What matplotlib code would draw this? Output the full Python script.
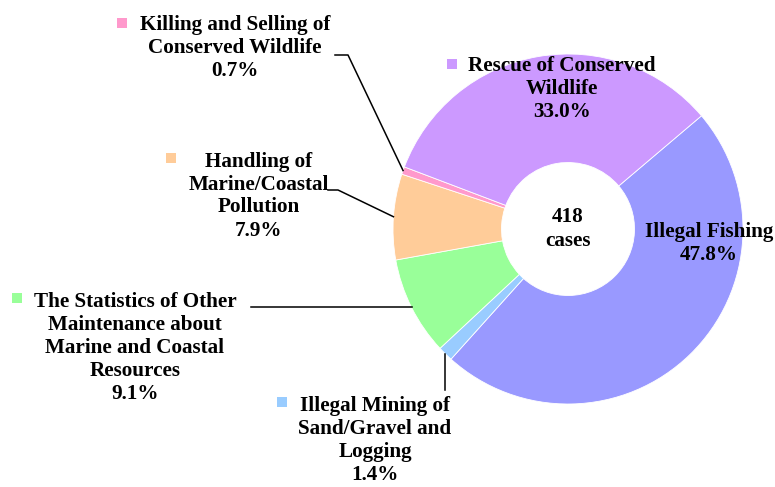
import numpy as np
import matplotlib
matplotlib.use("Agg")
import matplotlib.pyplot as plt

# data, clockwise from the upper right
names = ["Illegal Fishing",
         "Illegal Mining of\nSand/Gravel and\nLogging",
         "The Statistics of Other\nMaintenance about\nMarine and Coastal\nResources",
         "Handling of\nMarine/Coastal\nPollution",
         "Killing and Selling of\nConserved Wildlife",
         "Rescue of Conserved\nWildlife"]
shares = [47.8, 1.4, 9.1, 7.9, 0.7, 33.0]
colors = ["#9999ff", "#99ccff", "#99ff99", "#ffcc99", "#ff99cc", "#cc99ff"]
total_cases = 418

W, H = 775, 487
CX, CY, R = 568, 229, 175


def px(x, y):
    # pixel position -> data units (pie radius = 1)
    return (x - CX) / R, (CY - y) / R


fig = plt.figure(figsize=(W / 100, H / 100), dpi=100)
ax = fig.add_axes([0, 0, 1, 1])

wedges, _ = ax.pie(shares, colors=colors, startangle=40.3, counterclock=False,
                   radius=1, wedgeprops=dict(width=0.62, edgecolor="white", linewidth=0.6))

ax.set_xlim(-CX / R, (W - CX) / R)
ax.set_ylim(-(H - CY) / R, CY / R)
ax.set_aspect("equal")
ax.axis("off")

font = dict(family=["Liberation Serif", "DejaVu Serif"], weight="bold", fontsize=15.2)

# label text block centres and marker positions (pixels)
label_pos = [(709, 243), (375, 441), (135, 348), (259, 196), (235, 48), (562, 89)]
marker_pos = [None, (282, 402), (17, 298), (171.5, 157.5), (122.5, 22.5), (452.5, 63.5)]

for i, name in enumerate(names):
    lx, ly = px(*label_pos[i])
    ax.text(lx, ly, "%s\n%.1f%%" % (name, shares[i]), ha="center", va="center",
            linespacing=1.2, **font)
    if marker_pos[i] is not None:
        mx, my = px(*marker_pos[i])
        ax.plot(mx, my, "s", color=colors[i], markersize=7.4, markeredgewidth=0)


def edge_point(w):
    a = np.deg2rad((w.theta1 + w.theta2) / 2)
    return np.cos(a), np.sin(a)


# leader lines
ex, ey = edge_point(wedges[4])
p0, p1 = px(335, 55), px(348, 55)
ax.plot([p0[0], p1[0], ex], [p0[1], p1[1], ey], color="black", lw=1.1)

ex, ey = edge_point(wedges[3])
p0, p1 = px(328, 190), px(338, 190)
ax.plot([p0[0], p1[0], ex], [p0[1], p1[1], ey], color="black", lw=1.1)

ex, ey = edge_point(wedges[2])
p0 = px(251, 0)
ax.plot([p0[0], ex], [ey, ey], color="black", lw=1.1)

ex, ey = edge_point(wedges[1])
p0 = px(0, 390)
ax.plot([ex, ex], [p0[1], ey], color="black", lw=1.1)

ax.text(0, 0, "%d\ncases" % total_cases, ha="center", va="center", linespacing=1.2, **font)

fig.savefig("out.png", dpi=100)
